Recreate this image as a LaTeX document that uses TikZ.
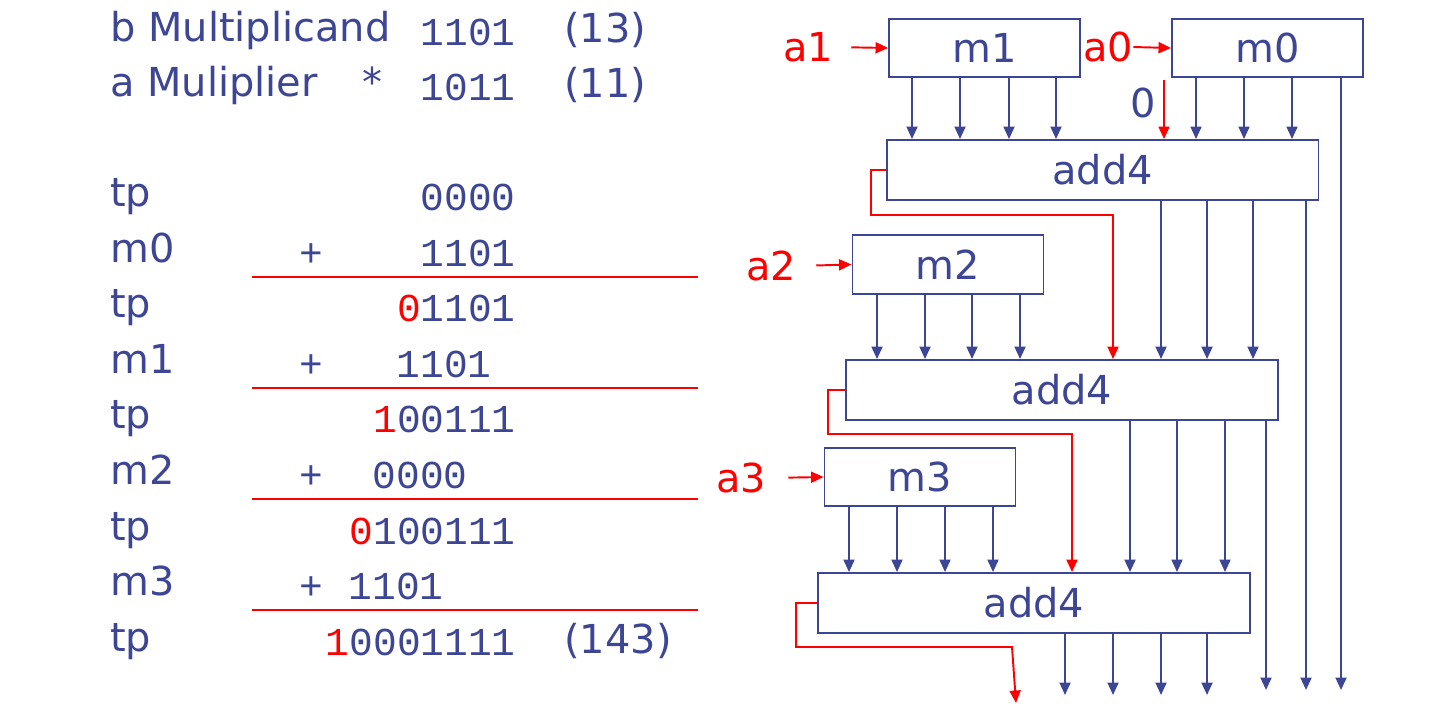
\documentclass[tikz,border=0pt]{standalone}
\usepackage{fontspec}
\setmainfont{DejaVu Sans}
\newfontfamily\digits{Liberation Mono}
\usetikzlibrary{arrows.meta}
\definecolor{navy}{RGB}{61,70,148}
\begin{document}
\begin{tikzpicture}[x=0.02cm,y=-0.02cm,
	every node/.style={text=navy,inner sep=0pt,font=\fontsize{22.7}{26}\selectfont},
	lbl/.style={anchor=base west},
	num/.style={anchor=base east,font=\digits\fontsize{22.5}{26}\selectfont},
	blk/.style={draw=navy,line width=1.1pt,minimum width=3.82cm,minimum height=1.17cm},
	addblk/.style={blk,minimum width=8.64cm,minimum height=1.2cm},
	wire/.style={navy,line width=1.1pt,-{Triangle[length=0.25cm,width=0.22cm]}},
	carry/.style={red,line width=1.1pt,-{Triangle[length=0.25cm,width=0.22cm]}}]
	\useasboundingbox (0,0) rectangle (1432,710);
	\node[lbl] (b) at (110,41) {b Multiplicand};
	\node[num] (bval) at (516,45) {1101};
	\node[lbl] (bdec) at (564,42) {(13)};
	\node[lbl] (a) at (110,96) {a Muliplier};
	\node[anchor=base] (times) at (372,96) {*};
	\node[num] (aval) at (516,100) {1011};
	\node[lbl] (adec) at (564,97) {(11)};
	\node[lbl] (tp0) at (110,206) {tp};
	\node[num] (tpv0) at (516,210) {0000};
	\node[lbl] (m0l) at (110,262) {m0};
	\node[num] (plus0) at (324,266) {+};
	\node[num] (m0v) at (516,266) {1101};
	\node[lbl] (tp1) at (110,317) {tp};
	\node[num] (tpv1) at (516,321) {\textcolor{red}{0}1101};
	\node[lbl] (m1l) at (110,373) {m1};
	\node[num] (plus1) at (324,377) {+};
	\node[num] (m1v) at (492,377) {1101};
	\node[lbl] (tp2) at (110,428) {tp};
	\node[num] (tpv2) at (516,432) {\textcolor{red}{1}00111};
	\node[lbl] (m2l) at (110,484) {m2};
	\node[num] (plus2) at (324,488) {+};
	\node[num] (m2v) at (468,488) {0000};
	\node[lbl] (tp3) at (110,540) {tp};
	\node[num] (tpv3) at (516,544) {\textcolor{red}{0}100111};
	\node[lbl] (m3l) at (110,595) {m3};
	\node[num] (plus3) at (324,599) {+};
	\node[num] (m3v) at (444,599) {1101};
	\node[lbl] (tp4) at (110,651) {tp};
	\node[num] (tpv4) at (516,655) {\textcolor{red}{1}0001111};
	\node[lbl] (pdec) at (564,653) {(143)};
	\foreach \y in {277,388,499,610}
		\draw[red,line width=1.1pt] (252,\y) -- (698,\y);
	\node[blk] (m1) at (984.5,48) {m1};
	\node[blk] (m0) at (1267.5,48) {m0};
	\node[addblk] (add1) at (1102.5,170) {add4};
	\node[blk] (m2) at (948,264.5) {m2};
	\node[addblk] (add2) at (1062,390) {add4};
	\node[blk] (m3) at (920,477) {m3};
	\node[addblk] (add3) at (1034,603) {add4};
	\node[text=red] (a1) at (808,47) {a1};
	\node[text=red] (a0) at (1108,47) {a0};
	\node[text=red] (a2) at (771,266) {a2};
	\node[text=red] (a3) at (741,478) {a3};
	\node (zero) at (1143,103) {0};
	\coordinate (bot) at (0,690);
	\coordinate (out) at (1016,703);
	\draw[carry,shorten <=0.36cm] (a1.east) -- (m1.west);
	\draw[carry] (a0.east) -- (m0.west);
	\draw[carry,shorten <=0.4cm] (a2.east) -- (m2.west);
	\draw[carry,shorten <=0.44cm] (a3.east) -- (m3.west);
	\draw[carry] (1164,80) -- (1164,0 |- add1.north);
	\foreach \x in {912,960,1009,1056}
		\draw[wire] (\x,0 |- m1.south) -- (\x,0 |- add1.north);
	\foreach \x in {1196,1244,1292}
		\draw[wire] (\x,0 |- m0.south) -- (\x,0 |- add1.north);
	\draw[wire] (1341,0 |- m0.south) -- (1341,0 |- bot);
	\foreach \x in {1161,1207,1253}
		\draw[wire] (\x,0 |- add1.south) -- (\x,0 |- add2.north);
	\draw[wire] (1306,0 |- add1.south) -- (1306,0 |- bot);
	\foreach \x in {877,925,972,1020}
		\draw[wire] (\x,0 |- m2.south) -- (\x,0 |- add2.north);
	\foreach \x in {1130,1177,1225}
		\draw[wire] (\x,0 |- add2.south) -- (\x,0 |- add3.north);
	\draw[wire] (1266,0 |- add2.south) -- (1266,0 |- bot);
	\foreach \x in {849,897,945,993}
		\draw[wire] (\x,0 |- m3.south) -- (\x,0 |- add3.north);
	\foreach \x in {1065,1113,1161,1207}
		\draw[wire] (\x,0 |- add3.south) -- (\x,695);
	\draw[carry] (add1.west) -- ++(-15,0) |- (1113,215) -- (1113,0 |- add2.north);
	\draw[carry] (add2.west) -- ++(-17,0) |- (1072,434) -- (1072,0 |- add3.north);
	\draw[carry] (add3.west) -- ++(-21,0) |- (1012,647) -- (out);
\end{tikzpicture}
\end{document}
